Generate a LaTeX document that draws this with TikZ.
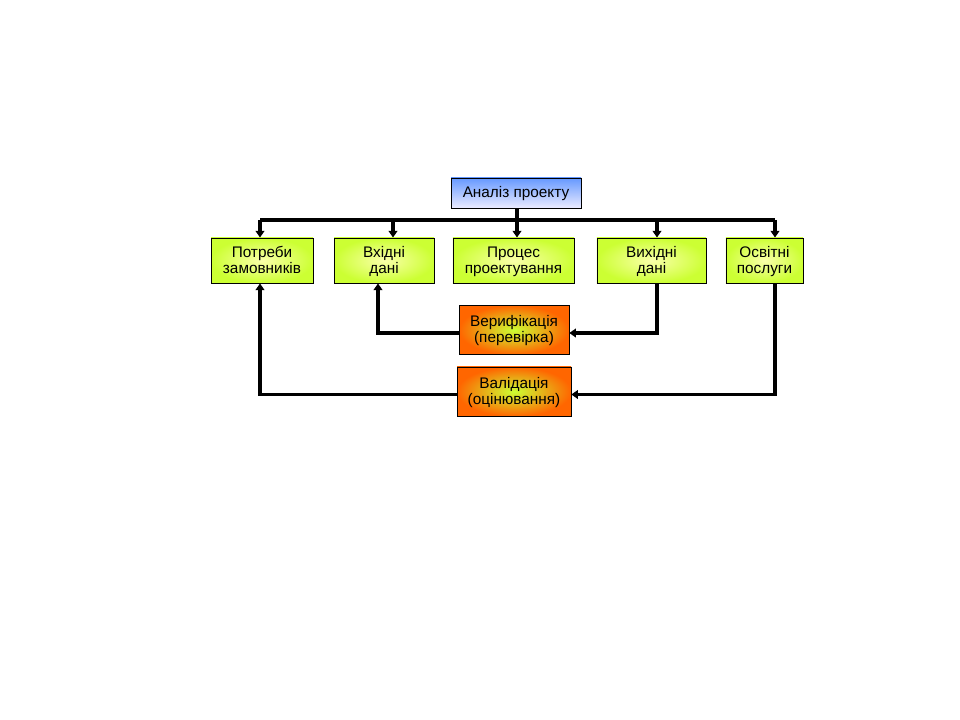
\documentclass[tikz,border=0pt]{standalone}
\usepackage{fontspec}
\setmainfont{Liberation Sans}
\usepackage{tikz}
\usetikzlibrary{arrows.meta}

\definecolor{lime}{RGB}{204,255,51}
\definecolor{limelight}{RGB}{250,255,170}
\definecolor{orng}{RGB}{255,102,0}
\definecolor{skyblue}{RGB}{102,153,255}
\definecolor{paleblue}{RGB}{235,235,255}

\newcommand{\bs}{\vrule width 0pt height 9.4pt depth 2.6pt}

\tikzset{
  box/.style={draw, inner sep=0pt, align=center, font=\fontsize{11.5}{12}\selectfont},
  greenbox/.style={box, shading=radial, inner color=limelight, outer color=lime},
  orangebox/.style={box, shading=radial, inner color=lime, outer color=orng},
  bluebox/.style={box, top color=skyblue, bottom color=paleblue},
  link/.style={line width=2.6pt},
  arr/.style={link, -{Triangle[length=5pt,width=6.5pt]}}
}

\begin{document}
\begin{tikzpicture}[x=0.75pt,y=-0.75pt]
  \useasboundingbox (0,0) rectangle (960,720);
  \node[bluebox, minimum width=97.5pt, minimum height=22.5pt] (ana) at (516,193) {\bs Аналіз проекту};
  \node[greenbox, minimum width=76.5pt, minimum height=34pt] (p1) at (262,260.5) {\bs Потреби\\\bs замовників};
  \node[greenbox, minimum width=75pt, minimum height=34pt] (p2) at (384,260.5) {\bs Вхідні\\\bs дані};
  \node[greenbox, minimum width=91pt, minimum height=34pt] (p3) at (513.5,260.5) {\bs Процес\\\bs проектування};
  \node[greenbox, minimum width=82pt, minimum height=34pt] (p4) at (651.5,260.5) {\bs Вихідні\\\bs дані};
  \node[greenbox, minimum width=58pt, minimum height=34pt] (p5) at (764.5,260.5) {\bs Освітні\\\bs послуги};
  \node[orangebox, minimum width=82.5pt, minimum height=37pt] (ver) at (514,330) {\bs Верифікація\\\bs (перевірка)};
  \node[orangebox, minimum width=85.5pt, minimum height=37pt] (val) at (514,391.5) {\bs Валідація\\\bs (оцінювання)};
  % bus taps
  \coordinate (t1) at (260,220);
  \coordinate (t2) at (393,220);
  \coordinate (t3) at (517,220);
  \coordinate (t4) at (657,220);
  \coordinate (t5) at (775,220);
  \coordinate (u2) at (378,0);
  \draw[link] (ana.south -| t3) -- (t3);
  \draw[link] (t1) -- (t5);
  \foreach \n in {1,...,5}
    \draw[arr] (t\n) -- (t\n |- p\n.north);
  % feedback
  \draw[arr] (t4 |- p4.south) -- ([yshift=-2.25pt]t4 |- ver) -- ([yshift=-2.25pt]ver.east);
  \draw[arr] ([yshift=-2.25pt]ver.west) -- ([yshift=-2.25pt]u2 |- ver) -- (u2 |- p2.south);
  \draw[arr] (t5 |- p5.south) -- ([yshift=-2.25pt]t5 |- val) -- ([yshift=-2.25pt]val.east);
  \draw[arr] ([yshift=-2.25pt]val.west) -- ([yshift=-2.25pt]t1 |- val) -- (t1 |- p1.south);
\end{tikzpicture}
\end{document}
